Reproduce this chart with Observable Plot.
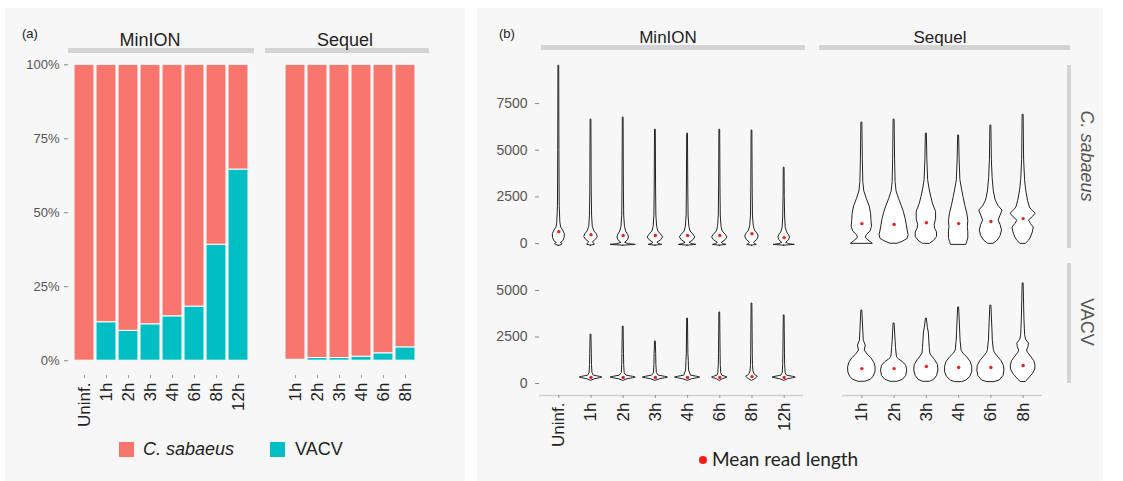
<!DOCTYPE html>
<html><head><meta charset="utf-8">
<script src="https://cdn.jsdelivr.net/npm/d3@7"></script>
<script src="https://cdn.jsdelivr.net/npm/@observablehq/plot@0.6"></script>
<style>
body{margin:0;background:#fff;}
#root{position:relative;width:1123px;height:481px;overflow:hidden;font-family:"Liberation Sans",Arial,sans-serif;background:#fff;}
</style></head><body><div id="root"></div>
<script>
// ---------- DATA ----------
const minionTimes = ["Uninf.","1h","2h","3h","4h","6h","8h","12h"];
const sequelTimes = ["1h","2h","3h","4h","6h","8h"];
const speciesNames = ["C. sabaeus","VACV"];
const speciesColors = ["#F8766D","#00BFC4"];
// (a) share of reads (%) from VACV; the rest is C. sabaeus
const minionVacvPct = [0, 13.0, 10.1, 12.3, 15.0, 18.3, 39.2, 64.6];
const sequelVacvPct = [0.3, 0.9, 0.9, 1.35, 2.5, 4.5];
const pctTicks = [0, 25, 50, 75, 100];
const pctDomain = [-5, 105];
// (b) read-length violins: [read length, relative density 0..15]
const lenTicksCsab = [0, 2500, 5000, 7500];
const lenTicksVacv = [0, 2500, 5000];
const lenDomainCsab = [-380, 9700];
const lenDomainVacv = [-645, 6450];
const minionCsabViolins = [
  [[-120,0],[-80,3],[-30,4],[30,2],[120,4.5],[300,6],[500,6.2],[700,4.5],[850,2.5],[1100,1.6],[2000,0.9],[5000,0.6],[9530,0.4]],
  [[-110,0],[-60,4],[0,3],[80,2],[200,5],[350,7],[500,6],[650,3.5],[900,1.8],[1500,1.1],[3000,0.7],[6640,0.4]],
  [[-110,0],[-70,13],[-30,6],[40,2],[180,5],[330,6],[480,5],[650,3],[900,1.8],[1500,1],[3000,0.7],[6750,0.4]],
  [[-110,0],[-70,7],[-30,4],[40,2],[180,6],[330,8],[480,6],[650,3],[900,1.8],[1500,1],[3000,0.7],[6100,0.4]],
  [[-110,0],[-70,9],[-30,5],[40,2],[180,6],[330,8],[480,6],[650,3],[900,1.8],[1500,1],[3000,0.7],[5890,0.4]],
  [[-110,0],[-70,7],[-30,4],[40,2],[180,6],[330,8],[480,6],[650,3],[900,1.8],[1500,1],[3000,0.7],[6100,0.4]],
  [[-110,0],[-70,5],[-30,3.5],[40,2],[200,5.5],[380,7],[550,5.5],[700,3],[950,1.8],[1500,1],[3000,0.7],[6060,0.4]],
  [[-110,0],[-70,11],[-30,5],[40,2],[180,5],[320,6],[450,5],[600,3],[850,1.6],[1400,1],[2500,0.6],[4070,0.4]]
];
const sequelCsabViolins = [
  [[0,11],[120,8],[300,4],[450,5],[650,9],[900,10.5],[1200,10],[1600,9.5],[2000,8],[2400,5],[2800,2.5],[3300,1.5],[4500,1],[6480,0.5]],
  [[0,4],[100,9],[250,14],[450,15],[700,14],[1000,13],[1300,12],[1700,10],[2000,8],[2400,5],[2800,2.5],[3300,1.5],[4500,1],[6640,0.5]],
  [[0,4],[150,8],[350,11],[600,11],[800,9],[1000,8.5],[1300,10],[1700,10],[2100,7],[2500,5],[3000,3],[3400,1.8],[4500,1],[5890,0.5]],
  [[-50,8],[100,9],[300,10],[600,10],[900,9.5],[1200,10],[1600,9],[2000,7],[2500,5],[2900,3.5],[3400,1.8],[4500,1],[5790,0.5]],
  [[0,3],[160,7],[400,10],[700,11.5],[1000,10],[1230,8],[1500,10],[1770,12],[2000,8],[2300,5],[2800,3],[3500,1.8],[4500,1],[6320,0.5]],
  [[0,3],[150,6],[320,8],[600,10],[860,11],[1050,8],[1230,6],[1420,10],[1600,13],[1800,9],[1930,7],[2300,5],[2900,3],[3400,2],[4500,1],[6900,0.5]]
];
const minionVacvViolins = [
  null,
  [[150,0.5],[230,4],[280,9],[320,11.7],[360,9],[420,3],[550,1.5],[1000,1],[1600,0.8],[2630,0.4]],
  [[150,0.5],[230,4.5],[280,10],[320,13],[360,10],[420,3.5],[550,1.5],[1000,1],[1600,0.8],[3060,0.4]],
  [[150,0.5],[230,4.5],[280,10],[320,13],[360,10],[420,3.5],[550,1.5],[1000,1],[1600,0.8],[2260,0.4]],
  [[150,0.5],[230,4.5],[280,10],[320,13],[360,10],[420,3.5],[700,1.5],[1200,1.2],[1600,0.8],[3490,0.4]],
  [[150,0.5],[230,3],[280,6],[320,8],[360,6],[420,2.5],[550,1.5],[1000,1],[1600,0.8],[3820,0.4]],
  [[150,0.5],[230,3],[300,5],[370,6],[430,4],[500,2.5],[650,1.5],[1000,1],[1600,0.8],[4300,0.4]],
  [[150,0.5],[230,4],[280,9],[320,12],[360,9],[420,3],[550,1.5],[1000,1],[1600,0.8],[3660,0.4]]
];
const sequelVacvViolins = [
  [[100,4],[200,9],[350,12],[600,14],[860,14.2],[1100,13],[1350,10],[1550,6],[1770,3],[2040,4],[2300,2],[2800,1.5],[3920,0.5]],
  [[100,4],[200,9],[400,12.5],[700,13.5],[950,12.5],[1150,9],[1300,5],[1400,3],[1600,2.5],[1900,2],[2300,1.5],[3230,0.5]],
  [[100,4],[200,8],[400,11],[700,12.5],[1000,12],[1250,9],[1450,6],[1610,4],[1900,3.5],[2300,3],[2740,2.5],[3000,1.5],[3490,0.5]],
  [[80,4],[160,8],[350,12],[600,14],[900,14],[1150,12.5],[1400,9],[1600,5],[1770,3],[2300,2],[2900,1.5],[4090,0.5]],
  [[80,4],[160,9],[400,13],[700,14],[950,13.5],[1200,11],[1450,7],[1650,4],[1800,3],[2300,2],[3000,1.5],[4190,0.5]],
  [[100,3],[270,6],[500,10],[750,12.5],[970,12.7],[1200,11.5],[1450,8],[1650,5],[1770,4],[1950,5.5],[2150,6],[2350,3],[2600,2],[3500,1.3],[5380,0.5]]
];
const minionCsabMean = [640, 480, 430, 430, 440, 430, 530, 320];
const sequelCsabMean = [1070, 1020, 1120, 1070, 1180, 1340];
const minionVacvMean = [null, 320, 320, 320, 320, 320, 370, 320];
const sequelVacvMean = [800, 800, 910, 860, 860, 970];
const meanLabel = "Mean read length";

// ---------- HELPERS ----------
const root = document.getElementById("root");
function box(css, html = "") {
  const d = document.createElement("div");
  d.style.cssText = "position:absolute;" + css;
  d.innerHTML = html;
  root.appendChild(d);
  return d;
}
function place(svg, left, top) {
  svg.style.position = "absolute";
  svg.style.left = left + "px";
  svg.style.top = top + "px";
  root.appendChild(svg);
}
const baseStyle = {background: "transparent", overflow: "visible", fontFamily: "Liberation Sans, Arial, sans-serif", fontSize: "13px"};

// panels
box("left:5px;top:8px;width:460px;height:473px;background:#f7f7f7;");
box("left:477px;top:8px;width:626px;height:473px;background:#f7f7f7;");

// ---------- (a) stacked bars ----------
function pctRows(times, vacv) {
  return times.flatMap((t, i) => [
    {time: t, species: speciesNames[1], pct: vacv[i]},
    {time: t, species: speciesNames[0], pct: 100 - vacv[i]}
  ]);
}
function barCell(times, vacv, {showY, panelLeftMargin, panelW}) {
  return Plot.plot({
    width: panelLeftMargin + panelW + 4, height: 445,
    marginLeft: panelLeftMargin, marginRight: 4, marginTop: 49.5, marginBottom: 70,
    x: {domain: times, paddingInner: 0.1, paddingOuter: 0.15, axis: null},
    y: {domain: pctDomain, axis: null},
    color: {domain: speciesNames, range: speciesColors},
    style: baseStyle,
    marks: [
      Plot.barY(pctRows(times, vacv), {x: "time", y: "pct", fill: "species", stroke: "white", strokeWidth: 1}),
      showY ? Plot.axisY({ticks: pctTicks, tickFormat: d => d + "%", tickSize: 4, tickPadding: 5, fontSize: 13, fill: "#555", stroke: "#888", label: null}) : null,
      Plot.axisX({tickRotate: -90, tickSize: 3, tickPadding: 4, fontSize: 17, fill: "#222", stroke: "#999", label: null})
    ]
  });
}
place(barCell(minionTimes, minionVacvPct, {showY: true, panelLeftMargin: 60, panelW: 186}), 8, 0);
place(barCell(sequelTimes, sequelVacvPct, {showY: false, panelLeftMargin: 9.6, panelW: 140}), 270, 0);

// (a) strips and labels
box("left:22px;top:26px;font-size:13px;color:#222;", "(a)");
box("left:68px;top:48px;width:186px;height:5px;background:#d4d4d4;");
box("left:265px;top:48px;width:164px;height:5px;background:#d4d4d4;");
box("left:150px;top:31px;font-size:18px;line-height:1;color:#222;transform:translateX(-50%);white-space:nowrap;", "MinION");
box("left:345px;top:31px;font-size:18px;line-height:1;color:#222;transform:translateX(-50%);white-space:nowrap;", "Sequel");
// (a) legend
box(`left:119px;top:442px;width:15px;height:15px;background:${speciesColors[0]};`);
box("left:143px;top:440px;font-size:18px;line-height:1;font-style:italic;color:#222;white-space:nowrap;", speciesNames[0]);
box(`left:270px;top:442px;width:15px;height:15px;background:${speciesColors[1]};`);
box("left:295px;top:440px;font-size:18px;line-height:1;color:#222;white-space:nowrap;", speciesNames[1]);

// ---------- (b) violins ----------
const maxDensity = 15, halfBand = 0.45;
function violinRows(profiles, times) {
  return profiles.flatMap((p, i) => p ? p.map(([len, dens]) => ({i, time: times[i], len, dens})) : []);
}
function meanRows(means, times) {
  return means.map((m, i) => ({i, time: times[i], mean: m})).filter(d => d.mean != null);
}
function violinCell({profiles, means, times, yDomain, yTicks, showY, showX, panelW, panelH, mL}) {
  const n = times.length;
  return Plot.plot({
    width: mL + panelW + 2, height: panelH + (showX ? 75 : 0),
    marginLeft: mL, marginRight: 2, marginTop: 0, marginBottom: showX ? 75 : 0,
    x: {domain: [-0.6, n - 0.4], axis: null},
    y: {domain: yDomain, axis: null},
    style: baseStyle,
    marks: [
      showX ? Plot.ruleY([yDomain[0]], {stroke: "#d0d0d0", strokeWidth: 1.5}) : null,
      Plot.areaX(violinRows(profiles, times), {
        y: "len", z: "time",
        x1: d => d.i - d.dens / maxDensity * halfBand,
        x2: d => d.i + d.dens / maxDensity * halfBand,
        fill: "white", stroke: "#222", strokeWidth: 1, curve: "linear"
      }),
      Plot.dot(meanRows(means, times), {x: "i", y: "mean", r: 1.7, fill: "#ff1a1a", stroke: null}),
      showY ? Plot.axisY({ticks: yTicks, tickSize: 4, tickPadding: 8, fontSize: 14, fill: "#555", stroke: "#888", label: null, tickFormat: d => String(d)}) : null,
      showX ? Plot.axisX({ticks: times.map((t, i) => i), tickFormat: i => times[i], tickRotate: -90, tickSize: 3, tickPadding: 4, fontSize: 17, fill: "#222", stroke: "#999", label: null}) : null
    ]
  });
}
place(violinCell({profiles: minionCsabViolins, means: minionCsabMean, times: minionTimes, yDomain: lenDomainCsab, yTicks: lenTicksCsab, showY: true, showX: false, panelW: 264, panelH: 188.2, mL: 60}), 479, 61.9);
place(violinCell({profiles: sequelCsabViolins, means: sequelCsabMean, times: sequelTimes, yDomain: lenDomainCsab, yTicks: lenTicksCsab, showY: false, showX: false, panelW: 200, panelH: 188.2, mL: 0}), 841.5, 61.9);
place(violinCell({profiles: minionVacvViolins, means: minionVacvMean, times: minionTimes, yDomain: lenDomainVacv, yTicks: lenTicksVacv, showY: true, showX: true, panelW: 264, panelH: 132, mL: 60}), 479, 263);
place(violinCell({profiles: sequelVacvViolins, means: sequelVacvMean, times: sequelTimes, yDomain: lenDomainVacv, yTicks: lenTicksVacv, showY: false, showX: true, panelW: 200, panelH: 132, mL: 0}), 841.5, 263);

// (b) strips and labels
box("left:499px;top:26px;font-size:13px;color:#222;", "(b)");
box("left:541px;top:45px;width:264px;height:5px;background:#d4d4d4;");
box("left:819px;top:45px;width:251px;height:5px;background:#d4d4d4;");
box("left:668px;top:29px;font-size:17px;line-height:1;color:#222;transform:translateX(-50%);white-space:nowrap;", "MinION");
box("left:940px;top:29px;font-size:17px;line-height:1;color:#222;transform:translateX(-50%);white-space:nowrap;", "Sequel");
box("left:1067px;top:65px;width:4px;height:183px;background:#d4d4d4;");
box("left:1067px;top:263px;width:4px;height:120px;background:#d4d4d4;");
box("left:1087px;top:156px;font-size:18px;line-height:1;font-style:italic;color:#555;white-space:nowrap;transform:translate(-50%,-50%) rotate(90deg);", speciesNames[0]);
box("left:1087px;top:322px;font-size:18px;line-height:1;color:#555;white-space:nowrap;transform:translate(-50%,-50%) rotate(90deg);", speciesNames[1]);
// (b) legend
box("left:699px;top:456px;width:8px;height:8px;border-radius:50%;background:#ff1a1a;");
box("left:712px;top:449px;font-size:19px;line-height:1;color:#222;white-space:nowrap;font-family:Lato,'Open Sans',sans-serif;", meanLabel);
</script></body></html>
